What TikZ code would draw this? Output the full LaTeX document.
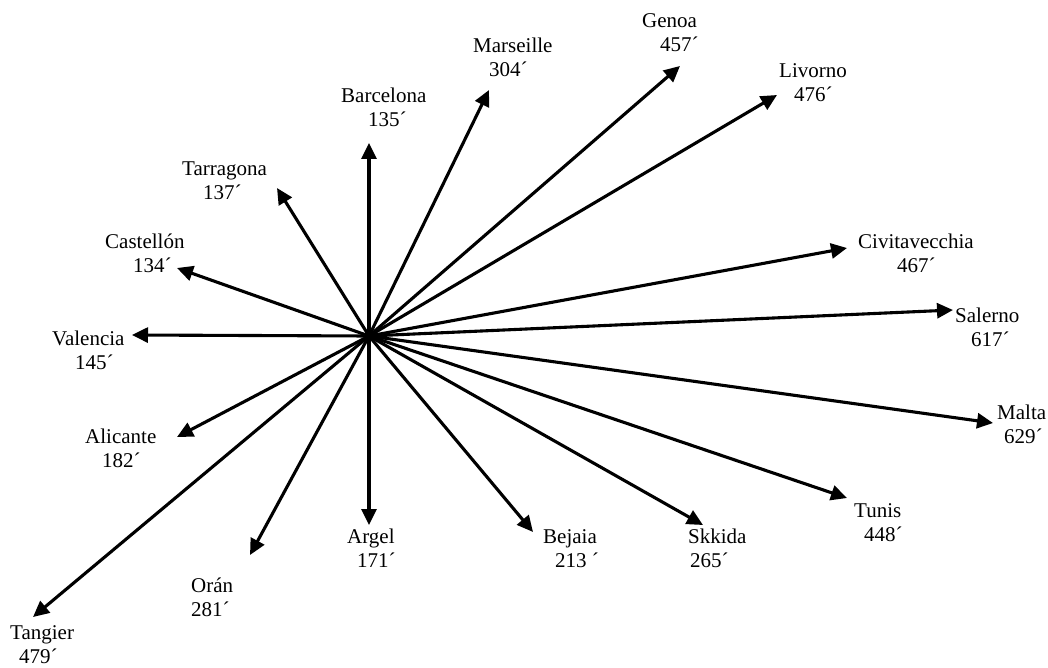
\documentclass[tikz,border=0pt]{standalone}
\usepackage{fontspec}
\setmainfont{Liberation Serif}
\usetikzlibrary{arrows.meta}
\begin{document}
\begin{tikzpicture}[x=1pt,y=-1pt,
  arr/.style={line width=3.1pt,-{Triangle[length=16pt,width=15pt]}},
  lbl/.style={anchor=north west,inner sep=0pt,align=left,font=\fontsize{21}{24}\selectfont}]
\useasboundingbox (0,0) rectangle (1048,668);
\coordinate (c) at (369,336);
% arrow tips
\coordinate (tBarcelona) at (369,143);
\coordinate (tMarseille) at (489,90);
\coordinate (tGenoa) at (680,66);
\coordinate (tLivorno) at (777,95);
\coordinate (tCivita) at (847,248);
\coordinate (tSalerno) at (953,310);
\coordinate (tMalta) at (993,423);
\coordinate (tTunis) at (847,498);
\coordinate (tSkkida) at (703,525);
\coordinate (tBejaia) at (533,532);
\coordinate (tArgel) at (369,525);
\coordinate (tOran) at (250,555);
\coordinate (tTangier) at (33,617);
\coordinate (tAlicante) at (177,437);
\coordinate (tValencia) at (132,335);
\coordinate (tCastellon) at (177,268);
\coordinate (tTarragona) at (277,188);
% labels
\node[lbl] (lBarcelona) at (341,85.2) {\strut Barcelona\\\hspace*{27pt}\strut 135´};
\node[lbl] (lMarseille) at (473,35.2) {\strut Marseille\\\hspace*{16pt}\strut 304´};
\node[lbl] (lGenoa) at (642,10.2) {\strut Genoa\\\hspace*{18pt}\strut 457´};
\node[lbl] (lLivorno) at (779,60.2) {\strut Livorno\\\hspace*{15pt}\strut 476´};
\node[lbl] (lCivita) at (858,231.2) {\strut Civitavecchia\\\hspace*{39pt}\strut 467´};
\node[lbl] (lSalerno) at (955,305.2) {\strut Salerno\\\hspace*{16pt}\strut 617´};
\node[lbl] (lMalta) at (997,402.2) {\strut Malta\\\hspace*{7pt}\strut 629´};
\node[lbl] (lTunis) at (854,500.2) {\strut Tunis\\\hspace*{10pt}\strut 448´};
\node[lbl] (lSkkida) at (688,526.2) {\strut Skkida\\\hspace*{2pt}\strut 265´};
\node[lbl] (lBejaia) at (543,526.2) {\strut Bejaia\\\hspace*{12pt}\strut 213 ´};
\node[lbl] (lArgel) at (347,526.2) {\strut Argel\\\hspace*{10pt}\strut 171´};
\node[lbl] (lOran) at (191,575.2) {\strut Orán\\\strut 281´};
\node[lbl] (lTangier) at (10,622.2) {\strut Tangier\\\hspace*{9pt}\strut 479´};
\node[lbl] (lAlicante) at (85,426.2) {\strut Alicante\\\hspace*{17pt}\strut 182´};
\node[lbl] (lValencia) at (52,328.2) {\strut Valencia\\\hspace*{23pt}\strut 145´};
\node[lbl] (lCastellon) at (105,231.2) {\strut Castellón\\\hspace*{28pt}\strut 134´};
\node[lbl] (lTarragona) at (182,158.2) {\strut Tarragona\\\hspace*{21pt}\strut 137´};
% arrows
\foreach \t in {tBarcelona,tMarseille,tGenoa,tLivorno,tCivita,tSalerno,tMalta,tTunis,tSkkida,tBejaia,tArgel,tOran,tTangier,tAlicante,tValencia,tCastellon,tTarragona}
  \draw[arr] (c) -- (\t);
\end{tikzpicture}
\end{document}
